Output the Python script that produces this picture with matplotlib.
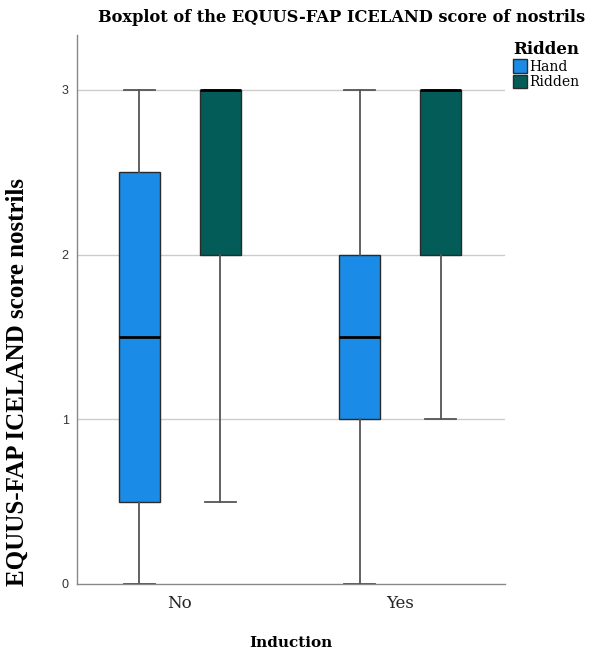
import matplotlib
matplotlib.use("Agg")
import matplotlib.pyplot as plt
from matplotlib.patches import Patch

groups = ["No", "Yes"]
series = ["Hand", "Ridden"]
colors = {"Hand": "#1a8ce8", "Ridden": "#045c58"}

# five-number summaries per group: (min, q1, median, q3, max)
hand_stats = [(0.0, 0.5, 1.5, 2.5, 3.0), (0.0, 1.0, 1.5, 2.0, 3.0)]
ridden_stats = [(0.5, 2.0, 3.0, 3.0, 3.0), (1.0, 2.0, 3.0, 3.0, 3.0)]
yticks = [0, 1, 2, 3]

fig = plt.figure(figsize=(5.95, 6.55), dpi=100)
ax = fig.add_axes([77/595, 1-584/655, (505-77)/595, (584-35)/655])

offset = 0.184
width = 0.19
for s, stats in zip(series, [hand_stats, ridden_stats]):
    sign = -1 if s == "Hand" else 1
    bxp = []
    for st in stats:
        lo, q1, med, q3, hi = st
        bxp.append(dict(whislo=lo, q1=q1, med=med, q3=q3, whishi=hi, fliers=[]))
    pos = [i + sign * offset for i in range(len(groups))]
    ax.bxp(bxp, positions=pos, widths=width, patch_artist=True, showfliers=False,
           boxprops=dict(facecolor=colors[s], edgecolor="#2a2a2a", linewidth=1.0),
           medianprops=dict(color="black", linewidth=2.0),
           whiskerprops=dict(color="#555555", linewidth=1.3),
           capprops=dict(color="#555555", linewidth=1.3),
           capwidths=0.14, zorder=3)

ax.set_xlim(-0.468, 1.477)
ax.set_ylim(0, 3.334)
ax.set_yticks(yticks)
ax.set_yticklabels([str(t) for t in yticks], fontfamily="Liberation Sans", fontsize=9, color="#333333")
ax.set_xticks(range(len(groups)))
ax.set_xticklabels(groups, fontfamily="DejaVu Serif", fontsize=12, color="#222222")
ax.tick_params(axis="both", length=0, pad=6)
ax.tick_params(axis="x", pad=8)
for y in yticks[1:]:
    ax.axhline(y, color="#cccccc", linewidth=1.0, zorder=1)
for side in ["top", "right"]:
    ax.spines[side].set_visible(False)
for side in ["left", "bottom"]:
    ax.spines[side].set_color("#888888")
    ax.spines[side].set_linewidth(1.0)

fig.text(342/595, 1-17/655, "Boxplot of the EQUUS-FAP ICELAND score of nostrils",
         ha="center", va="center", fontfamily="DejaVu Serif", fontweight="bold", fontsize=11.7)
fig.text(291/595, 1-643/655, "Induction", ha="center", va="center",
         fontfamily="DejaVu Serif", fontweight="bold", fontsize=11)
fig.text(17/595, 1-382/655, "EQUUS-FAP ICELAND score nostrils", ha="center", va="center",
         rotation=90, fontfamily="Liberation Serif", fontweight="bold", fontsize=18)

handles = [Patch(facecolor=colors[s], edgecolor="#2a2a2a", linewidth=1.0, label=s) for s in series]
leg = fig.legend(handles=handles, title="Ridden", loc="upper left",
                 bbox_to_anchor=(510/595, 1-38/655), frameon=False,
                 prop=dict(family="DejaVu Serif", size=10),
                 handlelength=1.0, handleheight=1.1, handletextpad=0.2,
                 labelspacing=0.1, borderaxespad=0, borderpad=0.2)
leg.get_title().set_fontfamily("DejaVu Serif")
leg.get_title().set_fontweight("bold")
leg.get_title().set_fontsize(12)

fig.savefig("out.png", dpi=100)
